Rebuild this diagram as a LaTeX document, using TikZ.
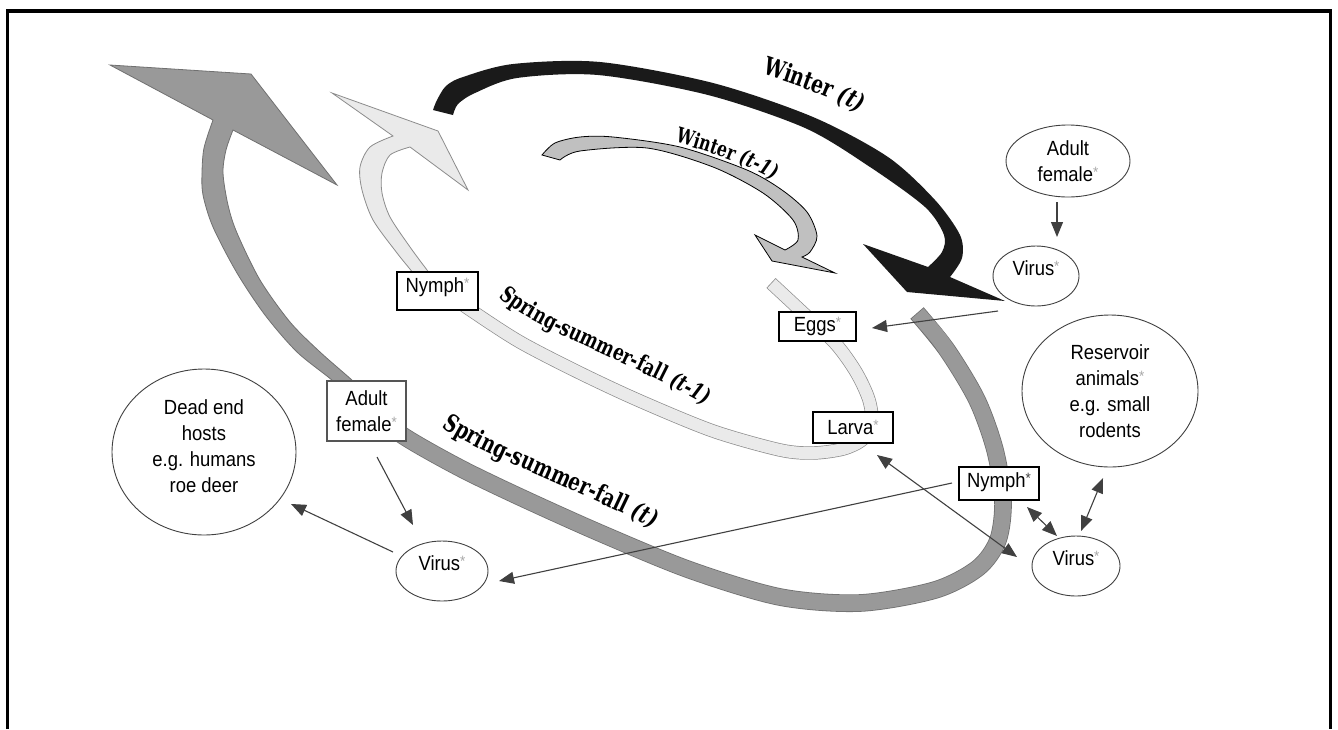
\documentclass[tikz,border=0pt]{standalone}
\usepackage{fontspec}
\setmainfont{Liberation Sans}[FakeStretch=0.9]
\newfontfamily\lblfont{DejaVu Serif}[FakeStretch=0.75]
\usetikzlibrary{shapes.geometric,arrows.meta,decorations.text}

\definecolor{darkband}{HTML}{999999}
\definecolor{darkedge}{HTML}{707070}
\definecolor{lightband}{HTML}{EAEAEA}
\definecolor{lightedge}{HTML}{8C8C8C}
\definecolor{winterblk}{HTML}{1A1A1A}
\definecolor{wintergray}{HTML}{C0C0C0}
\definecolor{conncol}{HTML}{404040}
\definecolor{astcol}{HTML}{A8A8A8}
\definecolor{boxgray}{HTML}{555555}

\newcommand\gstar{{\color{astcol}\raisebox{4pt}{\fontsize{15}{15}\selectfont *}}}
\newcommand\dstar{{\color{conncol}\raisebox{4pt}{\fontsize{15}{15}\selectfont *}}}
\newcommand\wtlabel{\lblfont\bfseries\fontsize{25}{25}\selectfont}
\newcommand\wtlabelit{\lblfont\bfseries\itshape\fontsize{25}{25}\selectfont}
\newcommand\wslabel{\lblfont\bfseries\fontsize{21}{21}\selectfont}
\newcommand\wslabelit{\lblfont\bfseries\itshape\fontsize{21}{21}\selectfont}
\newcommand\sslabel{\lblfont\bfseries\fontsize{22.5}{22.5}\selectfont}
\newcommand\sslabelit{\lblfont\bfseries\itshape\fontsize{22.5}{22.5}\selectfont}
\newcommand\stlabel{\lblfont\bfseries\fontsize{24.5}{24.5}\selectfont}
\newcommand\stlabelit{\lblfont\bfseries\itshape\fontsize{24.5}{24.5}\selectfont}

\begin{document}
\begin{tikzpicture}[x=1pt,y=-1pt,
  font=\fontsize{20.5}{26}\selectfont,
  ell/.style={ellipse, draw=conncol, line width=0.9pt, fill=white, inner sep=0pt, align=center},
  tickbox/.style={rectangle, draw=black, line width=1.4pt, fill=white, inner sep=0pt, align=center},
  conn/.style={draw=conncol, line width=1.1pt, -{Triangle[length=15pt,width=12pt]}},
  conntwo/.style={draw=conncol, line width=1.1pt, {Triangle[length=15pt,width=12pt]}-{Triangle[length=15pt,width=12pt]}},
  bandedge/.style={line width=0.8pt}
]
\useasboundingbox (0,0) rectangle (1338,729);

% frame
\draw[line width=3.5pt] (7.5,729) -- (7.5,11) -- (1330.5,11) -- (1330.5,729);

% ---- dark band (t)
\draw[line width=17.6pt, draw=darkedge] plot[smooth] coordinates {(917,313)(947,350)(977,400)(995,450)(1003,500)(998,540)(978,568)(935,590)(860,603)(780,597)(690,570)(600,533)(520,497)(460,468)(405,437)(370,410)(355,395)};
\draw[line width=16pt, draw=darkband, shorten <=0.8pt] plot[smooth] coordinates {(917,313)(947,350)(977,400)(995,450)(1003,500)(998,540)(978,568)(935,590)(860,603)(780,597)(690,570)(600,533)(520,497)(460,468)(405,437)(370,410)(355,395)};
\filldraw[fill=darkband, draw=darkedge, bandedge]
  plot[smooth] coordinates {(345,396)(333,381)(297,352)(265,315)(237,273)(213,227)(203,195)(202,173)(204,148)(213,120)}
  -- (110,65) -- (251,74) -- (337,185)
  -- plot[smooth] coordinates {(233,130)(226,150)(223,173)(228,205)(237,233)(260,280)(290,322)(320,352)(353,381)(365,394)}
  -- cycle;

% ---- light band (t-1)
\draw[line width=13.4pt, draw=lightedge] plot[smooth] coordinates {(771,283)(800,310)(835,343)(856,372)(869,400)(872,425)(862,440)(843,449)(813,453)(780,450)(713,431)(640,401)(580,373)(520,342)(472,311)(445,292)(428,281)};
\draw[line width=12pt, draw=lightband, shorten <=0.8pt] plot[smooth] coordinates {(771,283)(800,310)(835,343)(856,372)(869,400)(872,425)(862,440)(843,449)(813,453)(780,450)(713,431)(640,401)(580,373)(520,342)(472,311)(445,292)(428,281)};
\filldraw[fill=lightband, draw=lightedge, bandedge]
  plot[smooth] coordinates {(421,286)(413,273)(397,253)(373,220)(362,190)(360,167)(370,147)(393,136)}
  -- (332,93) -- (438,131) -- (468,190)
  -- plot[smooth] coordinates {(410,147)(390,155)(382,173)(382,193)(390,217)(410,247)(427,270)(436,282)}
  -- cycle;

% ---- winter (t) black arrow
\fill[winterblk]
  plot[smooth] coordinates {(433,110)(437,100)(446,86)(463,77)(513,64)(600,62)(713,83)(813,117)(888,157)(935,200)(960,235)(962,258)(950,277)}
  -- (1005,301) -- (907,292) -- (863,244)
  -- plot[smooth] coordinates {(928,267)(942,252)(944,235)(925,207)(870,167)(805,128)(708,95)(598,75)(517,78)(475,93)(458,104)(453,115)}
  -- cycle;

% ---- winter (t-1) gray arrow
\filldraw[fill=wintergray, draw=black, line width=0.8pt]
  plot[smooth] coordinates {(542,155)(555,143)(580,137)(613,137)(680,147)(747,170)(782,190)(807,212)(817,236)(810,252)(802,257)}
  -- (835,273) -- (772,261) -- (755,235)
  -- plot[smooth] coordinates {(785,250)(798,240)(793,220)(763,193)(713,167)(647,148)(580,151)(560,160)}
  -- cycle;

% ---- nodes
\node[tickbox, minimum width=81pt, minimum height=38pt, text depth=12pt] (nymA) at (437.5,291) {Nymph\gstar};
\node[tickbox, minimum width=77pt, minimum height=29pt] (eggs) at (817.5,326.5) {Eggs\gstar};
\node[tickbox, minimum width=80pt, minimum height=31pt] (larva) at (853,427.5) {Larva\gstar};
\node[tickbox, draw=boxgray, minimum width=79pt, minimum height=60pt] (afbox) at (366.5,411) {Adult\\female\gstar};
\node[tickbox, minimum width=80pt, minimum height=33pt, text depth=7pt] (nymB) at (999,483.5) {Nymph\dstar};

\node[ell, minimum width=124pt, minimum height=72pt] (aftop) at (1068,161) {Adult\\female\gstar};
\node[ell, minimum width=86pt, minimum height=60pt, text depth=16pt] (virtop) at (1036,276) {Virus\gstar};
\node[ell, minimum width=176pt, minimum height=152pt] (resv) at (1110,391) {Reservoir\\animals\gstar\\e.g. small\\rodents};
\node[ell, minimum width=88pt, minimum height=60pt, text depth=16pt] (virbr) at (1076,566) {Virus\gstar};
\node[ell, minimum width=184pt, minimum height=166pt, text depth=12pt] (dead) at (204,452) {Dead end\\hosts\\e.g. humans\\roe deer};
\node[ell, minimum width=92pt, minimum height=60pt, text depth=16pt] (virbl) at (442,571) {Virus\gstar};

% ---- connectors
\draw[conn] ([shift={(-11,41)}]aftop.center) -- ([shift={(21,-39)}]virtop.center);
\draw[conn] ([shift={(-38,35)}]virtop.center) -- ([shift={(54.5,1.5)}]eggs.center);
\draw[conn] ([shift={(10.5,46)}]afbox.center) -- ([shift={(-29,-46)}]virbl.center);
\draw[conn] ([shift={(-49,-19)}]virbl.center) -- ([shift={(87,52)}]dead.center);
\draw[conn] ([shift={(-47,-0.5)}]nymB.center) -- ([shift={(57,10)}]virbl.center);
\draw[conntwo] ([shift={(24,27.5)}]larva.center) -- ([shift={(-59,-9)}]virbr.center);
\draw[conntwo] ([shift={(28,23.5)}]nymB.center) -- ([shift={(-19,-30)}]virbr.center);
\draw[conntwo] ([shift={(-7,87)}]resv.center) -- ([shift={(5,-35)}]virbr.center);

% ---- curved labels
\path[decorate, decoration={text along path, text={|\wtlabel|Winter |\wtlabelit|(t)}}]
  (762,74) .. controls (800,86) and (835,99) .. (860,113) -- (900,140);
\path[decorate, decoration={text along path, text={|\wslabel|Winter |\wslabelit|(t-1)}}]
  (675,142) .. controls (710,152) and (745,164) .. (772,179) -- (800,198);
\path[decorate, decoration={text along path, text={|\sslabel|Spring-summer-fall |\sslabelit|(t-1)}}]
  (499,297) .. controls (540,332) and (610,352) .. (700,402) -- (740,425);
\path[decorate, decoration={text along path, text={|\stlabel|Spring-summer-fall |\stlabelit|(t)}}]
  (442,427) .. controls (485,457) and (580,490) .. (650,527) -- (700,560);
\end{tikzpicture}
\end{document}
